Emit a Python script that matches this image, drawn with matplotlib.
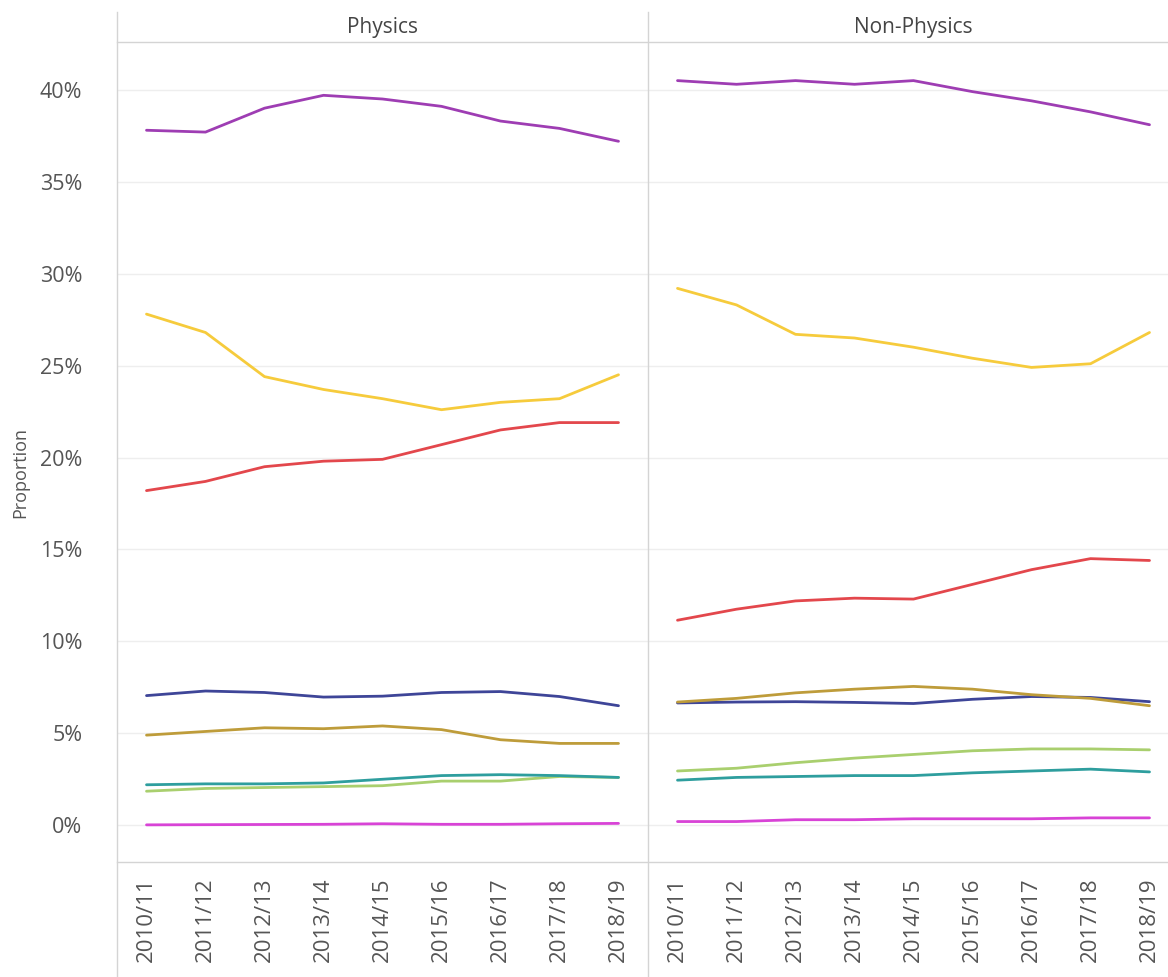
import matplotlib
matplotlib.use("Agg")
import matplotlib.pyplot as plt
from matplotlib.lines import Line2D
from matplotlib.ticker import FuncFormatter, MultipleLocator

plt.rcParams['font.family'] = ['Open Sans', 'DejaVu Sans']

years = ["2010/11", "2011/12", "2012/13", "2013/14", "2014/15",
         "2015/16", "2016/17", "2017/18", "2018/19"]
panels = ["Physics", "Non-Physics"]

# Proportions (%) per group, one list per panel: [Physics, Non-Physics]
purple = [[37.8, 37.7, 39.0, 39.7, 39.5, 39.1, 38.3, 37.9, 37.2],
          [40.5, 40.3, 40.5, 40.3, 40.5, 39.9, 39.4, 38.8, 38.1]]
yellow = [[27.8, 26.8, 24.4, 23.7, 23.2, 22.6, 23.0, 23.2, 24.5],
          [29.2, 28.3, 26.7, 26.5, 26.0, 25.4, 24.9, 25.1, 26.8]]
red = [[18.2, 18.7, 19.5, 19.8, 19.9, 20.7, 21.5, 21.9, 21.9],
       [11.15, 11.75, 12.2, 12.35, 12.3, 13.1, 13.9, 14.5, 14.4]]
navy = [[7.05, 7.3, 7.22, 6.97, 7.02, 7.22, 7.27, 7.0, 6.5],
        [6.65, 6.7, 6.72, 6.68, 6.62, 6.85, 7.0, 6.95, 6.72]]
olive = [[4.9, 5.1, 5.3, 5.25, 5.4, 5.2, 4.65, 4.45, 4.45],
         [6.7, 6.9, 7.2, 7.4, 7.55, 7.4, 7.1, 6.9, 6.5]]
green = [[1.85, 2.0, 2.05, 2.1, 2.15, 2.4, 2.4, 2.65, 2.6],
         [2.95, 3.1, 3.4, 3.65, 3.85, 4.05, 4.15, 4.15, 4.1]]
teal = [[2.2, 2.25, 2.25, 2.3, 2.5, 2.7, 2.75, 2.7, 2.6],
        [2.45, 2.6, 2.65, 2.7, 2.7, 2.85, 2.95, 3.05, 2.9]]
magenta = [[0.02, 0.03, 0.04, 0.05, 0.08, 0.05, 0.05, 0.08, 0.1],
           [0.2, 0.2, 0.3, 0.3, 0.35, 0.35, 0.35, 0.4, 0.4]]

series = [
    (purple, "#9E3DB3"),
    (yellow, "#F6CB3C"),
    (red, "#E3474C"),
    (navy, "#3E4598"),
    (olive, "#BE9C3A"),
    (green, "#A9CF6E"),
    (teal, "#2E9E9E"),
    (magenta, "#D843D6"),
]

W, H = 1168, 977
fig = plt.figure(figsize=(W / 100, H / 100), dpi=100)
fig.patch.set_facecolor("white")

grid_c = "#eeeeee"
frame_c = "#d4d4d4"
text_c = "#555555"

left_px = [117, 648]
panel_w = 531
top_px, bot_px = 42, 862

axes = []
for i, name in enumerate(panels):
    ax = fig.add_axes([left_px[i] / W, 1 - bot_px / H, panel_w / W, (bot_px - top_px) / H])
    axes.append(ax)
    for data, col in series:
        ax.plot(range(len(years)), data[i], color=col, lw=2.0, solid_capstyle="round", zorder=3)
    ax.set_xlim(-0.5, len(years) - 0.5)
    ax.set_ylim(-2.0, 42.6)
    ax.yaxis.set_major_locator(MultipleLocator(5))
    ax.yaxis.set_major_formatter(FuncFormatter(lambda v, p: f"{v:.0f}%"))
    ax.grid(axis="y", color=grid_c, lw=1.0, zorder=0)
    ax.set_xticks(range(len(years)))
    ax.set_xticklabels(years, rotation=90, fontsize=16, color=text_c)
    ax.tick_params(axis="x", length=0, pad=11)
    for s in ["top", "right", "left", "bottom"]:
        ax.spines[s].set_visible(False)
    if i == 0:
        ax.tick_params(axis="y", length=0, labelsize=15.5, labelcolor=text_c, pad=25)
    else:
        ax.tick_params(axis="y", length=0, labelleft=False)
    cx = (left_px[i] + panel_w / 2) / W
    fig.text(cx, 1 - 28 / H, name, ha="center", va="center", fontsize=15, color="#444444")

fig.text(20 / W, 1 - 472 / H, "Proportion", rotation=90, ha="center", va="center",
         fontsize=13, color=text_c)

# Frame lines: panel dividers, header rule and axis base rule
for x in left_px:
    fig.add_artist(Line2D([x / W, x / W], [0, 1 - 12 / H], color=frame_c, lw=1.0))
for y in (top_px, bot_px):
    fig.add_artist(Line2D([left_px[0] / W, 1], [1 - y / H, 1 - y / H], color=frame_c, lw=1.0))

fig.savefig("out.png", dpi=100)
